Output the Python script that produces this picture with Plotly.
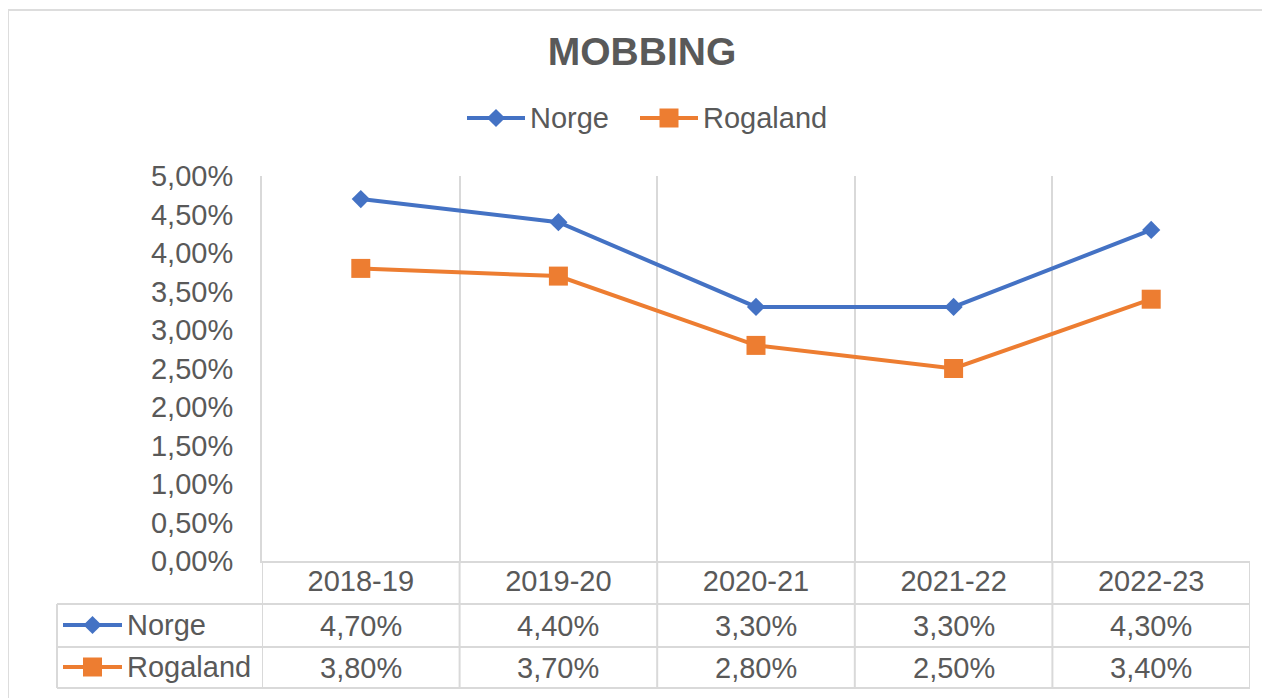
import plotly.graph_objects as go

# ---------------- data ----------------
categories = ["2018-19", "2019-20", "2020-21", "2021-22", "2022-23"]
norge = [4.70, 4.40, 3.30, 3.30, 4.30]
rogaland = [3.80, 3.70, 2.80, 2.50, 3.40]
series_names = ["Norge", "Rogaland"]
title_text = "MOBBING"
y_tick_values = [0.0, 0.5, 1.0, 1.5, 2.0, 2.5, 3.0, 3.5, 4.0, 4.5, 5.0]


def pct(v):
    return f"{v:.2f}%".replace(".", ",")


y_tick_labels = [pct(v) for v in y_tick_values]

# ---------------- styles / layout geometry ----------------
OFF = 8  # page body margin
W, H = 1270 - OFF, 698 - OFF
FONT = "Liberation Sans, Arial, sans-serif"
TXT = "#595959"
GRID = "#d9d9d9"
COLORS = ["#4472C4", "#ED7D31"]
SYMBOLS = ["diamond", "square"]
MSIZES = [14, 19]

PLOT_L, PLOT_R, PLOT_T, PLOT_B = 262, 1250, 176, 561
TABLE_L = 57
ROW_LINES = [604, 647, 688]


def px(x):
    return (x - OFF) / W


def py(y):
    return (H - (y - OFF)) / H


series = [norge, rogaland]

fig = go.Figure()

for name, vals, col, sym, ms in zip(series_names, series, COLORS, SYMBOLS, MSIZES):
    fig.add_trace(go.Scatter(
        x=categories, y=vals, name=name, mode="lines+markers",
        line=dict(color=col, width=4),
        marker=dict(symbol=sym, size=ms, color=col, opacity=1, line=dict(width=0)),
        showlegend=False, xaxis="x", yaxis="y",
    ))

# legend keys (top legend and table row keys) on a pixel-overlay axis
key_specs = [
    [(467, 525, 118), (640, 698, 118)],
    [(63, 122, 625), (63, 122, 667)],
]
for group in key_specs:
    for (x0, x1, yk), col, sym, ms in zip(group, COLORS, SYMBOLS, MSIZES):
        fig.add_trace(go.Scatter(
            x=[x0 - OFF, (x0 + x1) / 2 - OFF, x1 - OFF], y=[yk - OFF] * 3, mode="lines+markers",
            line=dict(color=col, width=4),
            marker=dict(symbol=sym, size=[0, ms, 0], color=col, opacity=1, line=dict(width=0)),
            showlegend=False, hoverinfo="skip", xaxis="x2", yaxis="y2",
        ))

annotations = []
for (x0, x1, yk), name in zip(key_specs[0], series_names):
    annotations.append(dict(
        x=px(x1 + 3), y=py(yk), xref="paper", yref="paper", text=name,
        showarrow=False, xanchor="left", yanchor="middle",
        font=dict(family=FONT, size=29, color=TXT),
    ))
row_centers = [(ROW_LINES[0] + ROW_LINES[1]) / 2, (ROW_LINES[1] + ROW_LINES[2]) / 2]
for (x0, x1, yk), name in zip(key_specs[1], series_names):
    annotations.append(dict(
        x=px(x1 + 3), y=py(yk), xref="paper", yref="paper", text=name,
        showarrow=False, xanchor="left", yanchor="middle",
        font=dict(family=FONT, size=29, color=TXT),
    ))
for vals, yc in zip(series, row_centers):
    for i, v in enumerate(vals):
        annotations.append(dict(
            x=i, y=py(yc), xref="x", yref="paper",
            text=pct(v),
            showarrow=False, xanchor="center", yanchor="middle",
            font=dict(family=FONT, size=29, color=TXT),
        ))

shapes = []
shapes.append(dict(type="rect", xref="paper", yref="paper",
                   x0=px(8), x1=1.05, y0=-0.05, y1=py(10),
                   line=dict(color="#dddddd", width=2), fillcolor="rgba(0,0,0,0)", layer="below"))
for i in range(len(categories) + 1):
    shapes.append(dict(type="line", xref="x", yref="paper",
                       x0=i - 0.5, x1=i - 0.5, y0=py(ROW_LINES[-1]), y1=py(PLOT_B),
                       line=dict(color=GRID, width=2)))
shapes.append(dict(type="line", xref="paper", yref="paper",
                   x0=px(TABLE_L), x1=px(TABLE_L), y0=py(ROW_LINES[-1]), y1=py(ROW_LINES[0]),
                   line=dict(color=GRID, width=2)))
for yl in ROW_LINES:
    shapes.append(dict(type="line", xref="paper", yref="paper",
                       x0=px(TABLE_L), x1=px(PLOT_R), y0=py(yl), y1=py(yl),
                       line=dict(color=GRID, width=2)))

fig.update_layout(
    width=W, height=H,
    margin=dict(l=0, r=0, t=0, b=0, pad=0),
    paper_bgcolor="white", plot_bgcolor="rgba(0,0,0,0)",
    template="none",
    title=dict(text=title_text, x=px(642), y=py(51), xanchor="center", yanchor="middle",
               xref="paper", yref="paper",
               font=dict(family=FONT, size=39, color=TXT, weight="bold")),
    xaxis=dict(
        domain=[px(PLOT_L), px(PLOT_R)], type="category",
        categoryorder="array", categoryarray=categories,
        range=[-0.5, len(categories) - 0.5],
        tickson="boundaries", ticks="", showgrid=True, gridcolor=GRID, gridwidth=2,
        showline=True, linecolor=GRID, linewidth=2, zeroline=False,
        ticklabelstandoff=-7,
        tickfont=dict(family=FONT, size=29, color=TXT),
        automargin=False, fixedrange=True,
    ),
    yaxis=dict(
        domain=[py(PLOT_B), py(PLOT_T)], range=[0, 5],
        tickvals=y_tick_values, ticktext=y_tick_labels,
        showgrid=False, zeroline=False, ticks="",
        showline=True, linecolor=GRID, linewidth=2,
        ticklabelstandoff=21,
        tickfont=dict(family=FONT, size=29, color=TXT),
        automargin=False, fixedrange=True,
    ),
    xaxis2=dict(domain=[0, 1], range=[0, W], visible=False, anchor="y2", fixedrange=True),
    yaxis2=dict(domain=[0, 1], range=[H, 0], visible=False, anchor="x2", fixedrange=True),
    annotations=annotations,
    shapes=shapes,
    showlegend=False,
)

fig.write_html("out.html")
